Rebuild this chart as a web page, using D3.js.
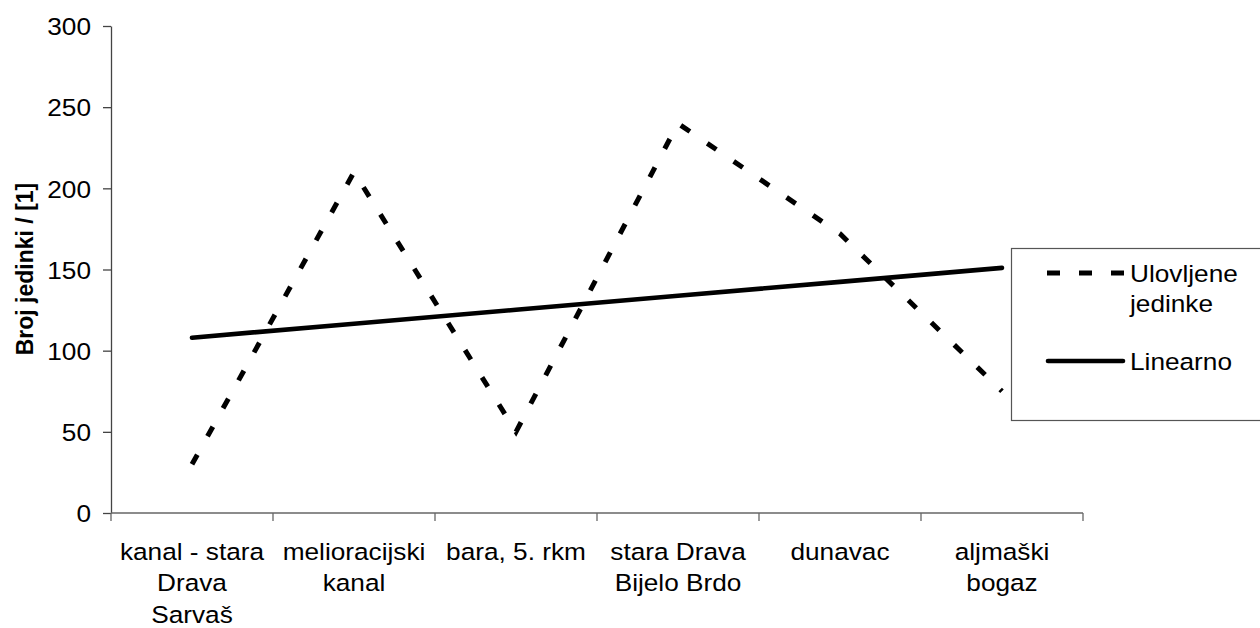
<!DOCTYPE html>
<html>
<head>
<meta charset="utf-8">
<script src="https://cdn.jsdelivr.net/npm/d3@7"></script>
<style>
  body { margin: 0; background: #fff; }
  svg { display: block; font-family: "Liberation Sans", Arial, sans-serif; }
</style>
</head>
<body>
<div id="container"></div>
<script>
const width = 1260;
const height = 628;

// data
const categories = ['kanal - stara|Drava|Sarvaš', 'melioracijski|kanal', 'bara, 5. rkm', 'stara Drava|Bijelo Brdo', 'dunavac', 'aljmaški|bogaz'];
const caught = [30, 210, 50, 240, 172, 75];
const yTicks = [0, 50, 100, 150, 200, 250, 300];
const seriesName = 'Ulovljene|jedinke';
const trendName = 'Linearno';
const yTitle = 'Broj jedinki / [1]';

const FONT = 24.5;
const SX = 1.07; // text in the picture is a bit wider than tall

const plotLeft = 111, plotRight = 1083, plotTop = 26, plotBottom = 513;

const x = d3.scaleBand().domain(categories).range([plotLeft, plotRight]).padding(0);
const y = d3.scaleLinear().domain([0, 300]).range([plotBottom, plotTop]);

// least squares trend over the series (the "Linearno" line)
const idx = caught.map((d, i) => i + 1);
const mx = d3.mean(idx), my = d3.mean(caught);
const slope = d3.sum(idx, (v, i) => (v - mx) * (caught[i] - my)) / d3.sum(idx, v => (v - mx) * (v - mx));
const trend = idx.map(v => my + slope * (v - mx));

let svg = d3.select('#container').append('svg')
    .attr('width', width)
    .attr('height', height);

// y axis
let yAxis = svg.append('g')
    .attr('transform', `translate(${plotLeft},0)`)
    .call(d3.axisLeft(y).tickValues(yTicks).tickSize(8).tickSizeOuter(0).tickPadding(20));
yAxis.select('.domain').attr('stroke', '#444').attr('stroke-width', 1.3);
yAxis.selectAll('.tick line').attr('stroke', '#444').attr('stroke-width', 1.3);
yAxis.selectAll('.tick text')
    .attr('font-size', FONT)
    .attr('font-family', '"Liberation Sans", Arial, sans-serif')
    .attr('fill', '#000')
    .attr('x', -20 / SX)
    .attr('dy', '0.36em')
    .attr('transform', `scale(${SX},1)`);

// x axis line and ticks between categories
let xg = svg.append('g');
xg.append('line')
    .attr('x1', plotLeft).attr('x2', plotRight)
    .attr('y1', plotBottom).attr('y2', plotBottom)
    .attr('stroke', '#666').attr('stroke-width', 1.3);
const bounds = categories.map(c => x(c)).concat([plotRight]);
xg.selectAll('line.tick')
    .data(bounds)
    .join('line')
    .attr('class', 'tick')
    .attr('x1', d => d).attr('x2', d => d)
    .attr('y1', plotBottom).attr('y2', plotBottom + 8)
    .attr('stroke', '#666').attr('stroke-width', 1.3);

// category labels
let lab = xg.selectAll('g.lab')
    .data(categories)
    .join('g')
    .attr('class', 'lab')
    .attr('transform', d => `translate(${x(d) + x.bandwidth() / 2},560) scale(${SX},1)`);
lab.append('text')
    .attr('text-anchor', 'middle')
    .attr('font-size', FONT)
    .selectAll('tspan')
    .data(d => d.split('|'))
    .join('tspan')
    .attr('x', 0)
    .attr('y', (d, i) => i * 31.5)
    .text(d => d);

// y title
svg.append('text')
    .attr('transform', 'translate(33,269) rotate(-90)')
    .attr('text-anchor', 'middle')
    .attr('font-size', 23)
    .attr('font-weight', 'bold')
    .text(yTitle);

const cx = (d, i) => x(categories[i]) + x.bandwidth() / 2;

// data series, dashed
svg.append('path')
    .datum(caught)
    .attr('fill', 'none')
    .attr('stroke', '#000')
    .attr('stroke-width', 5)
    .attr('stroke-dasharray', '11,21')
    .attr('d', d3.line().x(cx).y(d => y(d)));

// linear trend
svg.append('path')
    .datum(trend)
    .attr('fill', 'none')
    .attr('stroke', '#000')
    .attr('stroke-width', 4.6)
    .attr('stroke-linecap', 'round')
    .attr('d', d3.line().x(cx).y(d => y(d)));

// legend
let legend = svg.append('g');
legend.append('rect')
    .attr('x', 1011.5).attr('y', 248.5)
    .attr('width', 260).attr('height', 172)
    .attr('fill', '#fff')
    .attr('stroke', '#555').attr('stroke-width', 1.2);
legend.append('line')
    .attr('x1', 1047).attr('x2', 1124)
    .attr('y1', 273).attr('y2', 273)
    .attr('stroke', '#000').attr('stroke-width', 5)
    .attr('stroke-dasharray', '13,19');
legend.append('line')
    .attr('x1', 1048).attr('x2', 1123)
    .attr('y1', 361).attr('y2', 361)
    .attr('stroke', '#000').attr('stroke-width', 4.6)
    .attr('stroke-linecap', 'round');
let lt = legend.append('g')
    .attr('transform', `translate(1130,282) scale(${SX},1)`)
    .append('text')
    .attr('font-size', FONT);
lt.selectAll('tspan')
    .data(seriesName.split('|'))
    .join('tspan')
    .attr('x', 0)
    .attr('y', (d, i) => i * 30)
    .text(d => d);
legend.append('g')
    .attr('transform', `translate(1130,370) scale(${SX},1)`)
    .append('text')
    .attr('font-size', FONT)
    .text(trendName);
</script>
</body>
</html>
